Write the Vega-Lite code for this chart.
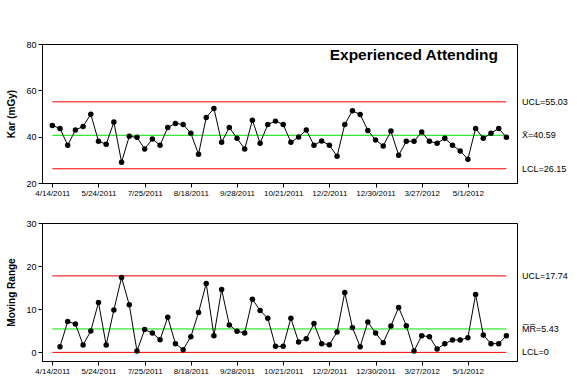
{
  "$schema": "https://vega.github.io/schema/vega-lite/v6.json",
  "padding": {"left": 6, "top": 39, "right": 5, "bottom": 5},
  "background": "white",
  "config": {
    "font": "Liberation Sans",
    "view": {"stroke": "black", "strokeWidth": 1},
    "axis": {
      "grid": false,
      "labelFont": "Liberation Sans",
      "labelColor": "black",
      "labelFontSize": 9,
      "tickColor": "black",
      "domainColor": "black",
      "tickSize": 4,
      "labelPadding": 2,
      "titleFont": "Liberation Sans",
      "titleFontSize": 10,
      "titleFontWeight": "bold",
      "titleColor": "black",
      "titlePadding": 9
    },
    "axisX": {"labelFontSize": 8, "labelFlush": false, "labelOverlap": false}
  },
  "datasets": {
    "obs": [
      {"i": 1, "kar": 44.86},
      {"i": 2, "kar": 43.57, "mr": 1.33},
      {"i": 3, "kar": 36.29, "mr": 7.14},
      {"i": 4, "kar": 42.86, "mr": 6.6},
      {"i": 5, "kar": 44.43, "mr": 1.71},
      {"i": 6, "kar": 49.71, "mr": 4.97},
      {"i": 7, "kar": 38.0, "mr": 11.56},
      {"i": 8, "kar": 36.71, "mr": 1.71},
      {"i": 9, "kar": 46.29, "mr": 9.85},
      {"i": 10, "kar": 29.0, "mr": 17.37},
      {"i": 11, "kar": 40.14, "mr": 11.02},
      {"i": 12, "kar": 39.71, "mr": 0.32},
      {"i": 13, "kar": 34.71, "mr": 5.28},
      {"i": 14, "kar": 39.0, "mr": 4.5},
      {"i": 15, "kar": 36.29, "mr": 2.95},
      {"i": 16, "kar": 44.0, "mr": 8.14},
      {"i": 17, "kar": 45.71, "mr": 2.02},
      {"i": 18, "kar": 45.29, "mr": 0.63},
      {"i": 19, "kar": 41.43, "mr": 3.64},
      {"i": 20, "kar": 32.43, "mr": 9.23},
      {"i": 21, "kar": 48.29, "mr": 15.97},
      {"i": 22, "kar": 52.14, "mr": 3.88},
      {"i": 23, "kar": 37.57, "mr": 14.57},
      {"i": 24, "kar": 44.0, "mr": 6.36},
      {"i": 25, "kar": 39.29, "mr": 4.89},
      {"i": 26, "kar": 34.71, "mr": 4.5},
      {"i": 27, "kar": 47.14, "mr": 12.33},
      {"i": 28, "kar": 37.14, "mr": 9.7},
      {"i": 29, "kar": 45.29, "mr": 7.91},
      {"i": 30, "kar": 46.71, "mr": 1.4},
      {"i": 31, "kar": 45.29, "mr": 1.4},
      {"i": 32, "kar": 37.57, "mr": 7.91},
      {"i": 33, "kar": 39.86, "mr": 2.4},
      {"i": 34, "kar": 42.86, "mr": 3.18},
      {"i": 35, "kar": 36.29, "mr": 6.67},
      {"i": 36, "kar": 38.14, "mr": 2.02},
      {"i": 37, "kar": 36.29, "mr": 1.79},
      {"i": 38, "kar": 31.57, "mr": 4.74},
      {"i": 39, "kar": 45.29, "mr": 13.88},
      {"i": 40, "kar": 51.14, "mr": 5.74},
      {"i": 41, "kar": 49.57, "mr": 1.33},
      {"i": 42, "kar": 42.71, "mr": 7.06},
      {"i": 43, "kar": 38.57, "mr": 4.5},
      {"i": 44, "kar": 36.0, "mr": 2.26},
      {"i": 45, "kar": 42.43, "mr": 6.13},
      {"i": 46, "kar": 32.0, "mr": 10.4},
      {"i": 47, "kar": 38.0, "mr": 6.2},
      {"i": 48, "kar": 38.0, "mr": 0.32},
      {"i": 49, "kar": 42.0, "mr": 3.88},
      {"i": 50, "kar": 38.0, "mr": 3.64},
      {"i": 51, "kar": 37.14, "mr": 0.78},
      {"i": 52, "kar": 39.29, "mr": 2.02},
      {"i": 53, "kar": 36.29, "mr": 2.88},
      {"i": 54, "kar": 33.86, "mr": 2.88},
      {"i": 55, "kar": 30.29, "mr": 3.41},
      {"i": 56, "kar": 43.57, "mr": 13.41},
      {"i": 57, "kar": 39.29, "mr": 4.03},
      {"i": 58, "kar": 41.43, "mr": 2.02},
      {"i": 59, "kar": 43.57, "mr": 2.02},
      {"i": 60, "kar": 39.71, "mr": 3.88}
    ],
    "limits": [
      {"chart": "I", "kind": "limit", "value": 55.03, "label": "UCL=55.03"},
      {"chart": "I", "kind": "center", "value": 40.59, "label": "X̄=40.59"},
      {"chart": "I", "kind": "limit", "value": 26.15, "label": "LCL=26.15"},
      {"chart": "MR", "kind": "limit", "value": 17.74, "label": "UCL=17.74"},
      {"chart": "MR", "kind": "center", "value": 5.43, "label": "M̅R̅=5.43"},
      {"chart": "MR", "kind": "limit", "value": 0, "label": "LCL=0"}
    ]
  },
  "spacing": 40,
  "bounds": "flush",
  "vconcat": [
    {
      "width": 475,
      "height": 139,
      "layer": [
        {
          "data": {"name": "limits"},
          "transform": [{"filter": "datum.chart == 'I'"}],
          "mark": {"type": "rule", "strokeWidth": 1},
          "encoding": {
            "x": {"datum": 1, "type": "quantitative"},
            "x2": {"datum": 60},
            "y": {"field": "value", "type": "quantitative"},
            "color": {"field": "kind", "type": "nominal", "scale": {"domain": ["limit", "center"], "range": ["#FF0000", "#00E600"]}, "legend": null}
          }
        },
        {
          "data": {"name": "limits"},
          "transform": [{"filter": "datum.chart == 'I'"}],
          "mark": {"type": "text", "align": "left", "baseline": "middle", "dx": 5, "fontSize": 9, "color": "black"},
          "encoding": {
            "x": {"datum": 61.38, "type": "quantitative"},
            "y": {"field": "value", "type": "quantitative"},
            "text": {"field": "label"}
          }
        },
        {
          "data": {"name": "obs"},
          "mark": {"type": "line", "color": "black", "strokeWidth": 1},
          "encoding": {
            "x": {"field": "i", "type": "quantitative", "scale": {"domain": [-0.34, 61.38], "nice": false, "zero": false},
              "axis": {"title": null, "values": [1, 7, 13, 19, 25, 31, 37, 43, 49, 55],
                "labelExpr": "['4/14/2011','5/24/2011','7/25/2011','8/18/2011','9/28/2011','10/21/2011','12/2/2011','12/30/2011','3/27/2012','5/1/2012'][(datum.value-1)/6]"}},
            "y": {"field": "kar", "type": "quantitative", "scale": {"domain": [20, 80], "nice": false, "zero": false},
              "axis": {"title": "Kar (mGy)", "values": [20, 40, 60, 80]}}
          }
        },
        {
          "data": {"name": "obs"},
          "mark": {"type": "point", "filled": true, "color": "black", "opacity": 1, "size": 30},
          "encoding": {
            "x": {"field": "i", "type": "quantitative"},
            "y": {"field": "kar", "type": "quantitative"}
          }
        },
        {
          "data": {"values": [{"title": "Experienced Attending"}]},
          "mark": {"type": "text", "align": "right", "baseline": "middle", "fontSize": 15.5, "fontWeight": "bold", "color": "black"},
          "encoding": {
            "x": {"datum": 58.9, "type": "quantitative"},
            "y": {"datum": 75.4, "type": "quantitative"},
            "text": {"field": "title"}
          }
        }
      ]
    },
    {
      "width": 475,
      "height": 138,
      "layer": [
        {
          "data": {"name": "limits"},
          "transform": [{"filter": "datum.chart == 'MR'"}],
          "mark": {"type": "rule", "strokeWidth": 1},
          "encoding": {
            "x": {"datum": 1, "type": "quantitative"},
            "x2": {"datum": 60},
            "y": {"field": "value", "type": "quantitative"},
            "color": {"field": "kind", "type": "nominal", "scale": {"domain": ["limit", "center"], "range": ["#FF0000", "#00E600"]}, "legend": null}
          }
        },
        {
          "data": {"name": "limits"},
          "transform": [{"filter": "datum.chart == 'MR'"}],
          "mark": {"type": "text", "align": "left", "baseline": "middle", "dx": 5, "fontSize": 9, "color": "black"},
          "encoding": {
            "x": {"datum": 61.38, "type": "quantitative"},
            "y": {"field": "value", "type": "quantitative"},
            "text": {"field": "label"}
          }
        },
        {
          "data": {"name": "obs"},
          "transform": [{"filter": "isValid(datum.mr)"}],
          "mark": {"type": "line", "color": "black", "strokeWidth": 1},
          "encoding": {
            "x": {"field": "i", "type": "quantitative", "scale": {"domain": [-0.34, 61.38], "nice": false, "zero": false},
              "axis": {"title": null, "values": [1, 7, 13, 19, 25, 31, 37, 43, 49, 55],
                "labelExpr": "['4/14/2011','5/24/2011','7/25/2011','8/18/2011','9/28/2011','10/21/2011','12/2/2011','12/30/2011','3/27/2012','5/1/2012'][(datum.value-1)/6]"}},
            "y": {"field": "mr", "type": "quantitative", "scale": {"domain": [-2, 30], "nice": false, "zero": false},
              "axis": {"title": "Moving Range", "values": [0, 10, 20, 30]}}
          }
        },
        {
          "data": {"name": "obs"},
          "transform": [{"filter": "isValid(datum.mr)"}],
          "mark": {"type": "point", "filled": true, "color": "black", "opacity": 1, "size": 30},
          "encoding": {
            "x": {"field": "i", "type": "quantitative"},
            "y": {"field": "mr", "type": "quantitative"}
          }
        }
      ]
    }
  ]
}
